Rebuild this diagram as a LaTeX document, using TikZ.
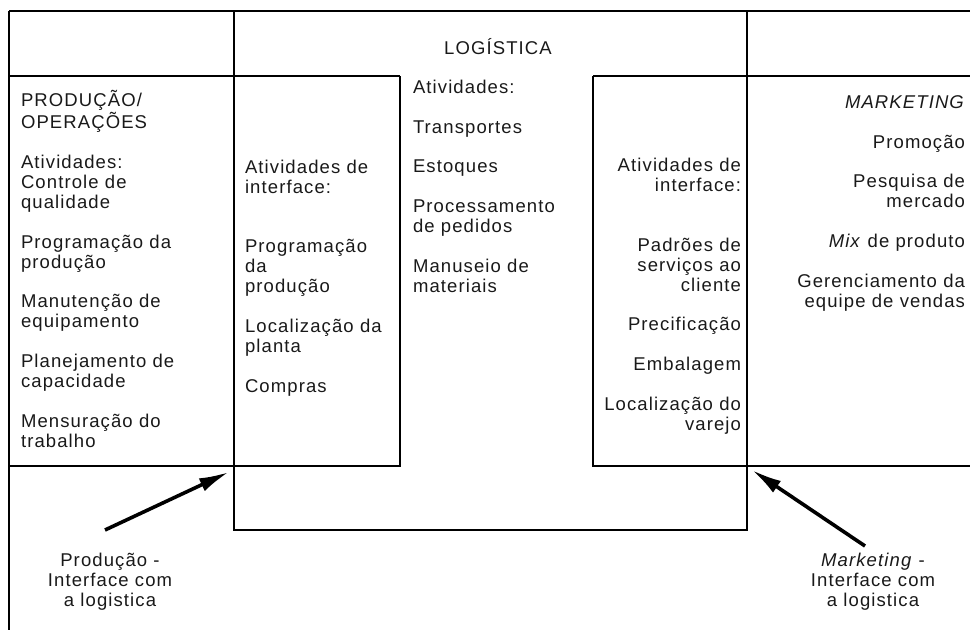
\documentclass[tikz,border=0pt]{standalone}
\usepackage{fontspec}
\setmainfont{Liberation Sans}[LetterSpace=6]
\usetikzlibrary{arrows.meta}
\newcommand{\txtsize}{\fontsize{18.5}{19.9}\selectfont}
\newcommand{\colL}[1]{{\txtsize\renewcommand{\arraystretch}{1}\begin{tabular}[t]{@{}l@{}}#1\end{tabular}}}
\newcommand{\colR}[1]{{\txtsize\renewcommand{\arraystretch}{1}\begin{tabular}[t]{@{}r@{}}#1\end{tabular}}}
\newcommand{\colC}[1]{{\txtsize\renewcommand{\arraystretch}{1}\begin{tabular}[t]{@{}c@{}}#1\end{tabular}}}
\tikzset{
  frame/.style={line width=1.3pt, black},
  txt/.style={inner sep=0pt, outer sep=0pt, text=black!90},
  bigarrow/.style={line width=3.6pt, line cap=butt, -{Latex[length=30pt,width=14pt]}}
}
\begin{document}
\begin{tikzpicture}[x=1pt,y=-1pt]
\useasboundingbox (0,0) rectangle (970,630);
% frame lines
\draw[frame] (9,11) -- (970,11);
\draw[frame] (9,11) -- (9,630);
\draw[frame] (9,76) -- (400,76);
\draw[frame] (593,76) -- (970,76);
\draw[frame] (234,11) -- (234,530) -- (747,530) -- (747,11);
\draw[frame] (9,466) -- (400,466) -- (400,76);
\draw[frame] (970,466) -- (593,466) -- (593,76);
% texts
\node[txt, anchor=base] (logtitle) at (498,54) {\txtsize LOGÍSTICA};
\node[txt, anchor=base west] (prod) at (21,106.5) {\colL{PRODUÇÃO/\\OPERAÇÕES\\ \\Atividades:\\Controle de\\qualidade\\ \\Programação da\\produção\\ \\Manutenção de\\equipamento\\ \\Planejamento de\\capacidade\\ \\Mensuração do\\trabalho}};
\node[txt, anchor=base west] (intprod) at (245,173.3) {\colL{Atividades de\\interface:\\ \\ \\Programação\\da\\produção\\ \\Localização da\\planta\\ \\Compras}};
\node[txt, anchor=base west] (logact) at (413,93.3) {\colL{Atividades:\\ \\Transportes\\ \\Estoques\\ \\Processamento\\de pedidos\\ \\Manuseio de\\materiais}};
\node[txt, anchor=base east] (intmkt) at (741,171.7) {\colR{Atividades de\\interface:\\ \\ \\Padrões de\hspace{5pt}\\serviços ao\hspace{5pt}\\cliente\\ \\Precificação\\ \\Embalagem\\ \\Localização do\\varejo}};
\node[txt, anchor=base east] (mkt) at (965,108.3) {\colR{\textit{MARKETING}\\ \\Promoção\\ \\Pesquisa de\\mercado\\ \\\textit{Mix} de produto\\ \\Gerenciamento da\\equipe de vendas}};
\node[txt, anchor=base] (lblprod) at (110,566.7) {\colC{Produção -\\Interface com\\a logistica}};
\node[txt, anchor=base] (lblmkt) at (873,566.7) {\colC{\textit{Marketing} -\\Interface com\\a logistica}};
% arrows
\coordinate (ptail) at (105,530);
\coordinate (ptip) at (229,472);
\coordinate (mtail) at (865,546);
\coordinate (mtip) at (752,470);
\draw[bigarrow] (ptail) -- (ptip);
\draw[bigarrow] (mtail) -- (mtip);
\end{tikzpicture}
\end{document}
